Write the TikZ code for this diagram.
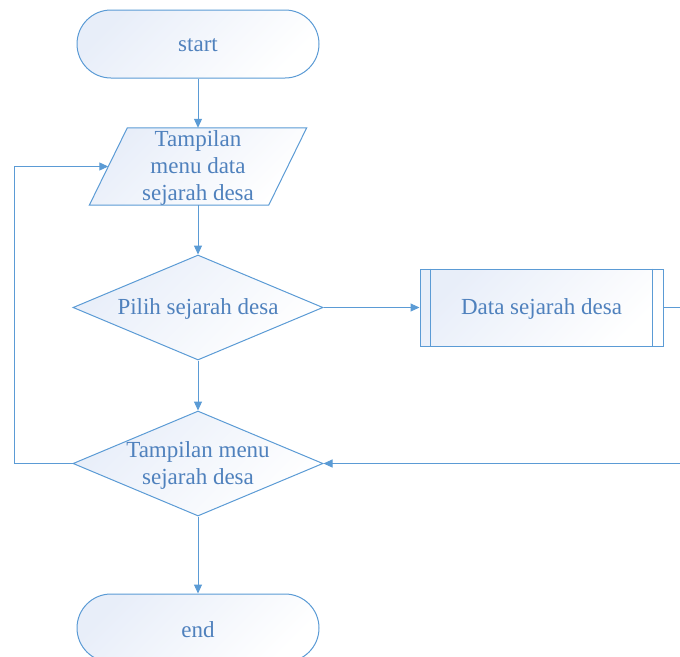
\documentclass[tikz,border=0pt]{standalone}
\usepackage{fontspec}
\setmainfont{Liberation Serif}
\usetikzlibrary{shapes.geometric,arrows.meta,calc}
\definecolor{linec}{RGB}{91,155,213}
\definecolor{textc}{RGB}{79,129,189}
\definecolor{fillc}{RGB}{232,238,249}
\tikzset{
  shp/.style={draw=linec, line width=1pt, top color=fillc, bottom color=white, shading angle=45, text=textc, font=\fontsize{23}{27}\selectfont, align=center},
  term/.style={shp, rectangle, rounded corners=34pt, minimum width=242pt, minimum height=68pt, inner sep=0pt},
  dia/.style={shp, diamond, minimum width=250pt, minimum height=105pt, inner sep=0pt},
  proc/.style={shp, rectangle, minimum width=243pt, minimum height=77pt, inner sep=0pt},
  txt/.style={text=textc, font=\fontsize{23}{27}\selectfont, align=center, inner sep=0pt},
  arr/.style={draw=linec, line width=1pt, -{Triangle[length=9pt,width=8pt]}},
  ln/.style={draw=linec, line width=1pt}
}
\begin{document}
\begin{tikzpicture}[x=1pt,y=-1pt]
\useasboundingbox (0,0) rectangle (680,656);
\clip (0,0) rectangle (680,656);
\node[term] (start) at (198,44) {};
\node[txt] (starttxt) at (198,45.5) {start};
% parallelogram
\node[minimum width=179pt, minimum height=77pt, inner sep=0pt] (disp) at (198,166.5) {};
\path[shp] ($(disp.north west)+(19,0)$) -- ($(disp.north east)+(19,0)$) -- ($(disp.south east)+(-19,0)$) -- ($(disp.south west)+(-19,0)$) -- cycle;
\node[txt] (disptxt) at (198,168) {Tampilan\\menu data\\sejarah desa};
\node[dia] (d1) at (198,307.5) {};
\node[txt] (d1txt) at (198,309) {Pilih sejarah desa};
\node[proc] (p) at (541.5,307.5) {};
\node[txt] (ptxt) at (541.5,309) {Data sejarah desa};
\draw[ln] ($(p.north west)+(11,0)$) -- ($(p.south west)+(11,0)$);
\draw[ln] ($(p.north east)+(-11,0)$) -- ($(p.south east)+(-11,0)$);
\node[dia] (d2) at (198,463.5) {};
\node[txt] (d2txt) at (198,465) {Tampilan menu\\sejarah desa};
\node[term] (end) at (198,628) {};
\node[txt] (endtxt) at (198,629.5) {end};
\coordinate (rt) at (700,307.5);
\coordinate (lf) at (14,463.5);
\draw[arr] (start) -- (disp);
\draw[arr] (disp) -- (d1);
\draw[arr] (d1) -- (p);
\draw[arr] (d1) -- (d2);
\draw[arr] (d2) -- (end);
\draw[arr] (p.east) -- (rt) |- (d2.east);
\draw[arr] (d2.west) -- (lf) |- (disp.west);
\end{tikzpicture}
\end{document}
